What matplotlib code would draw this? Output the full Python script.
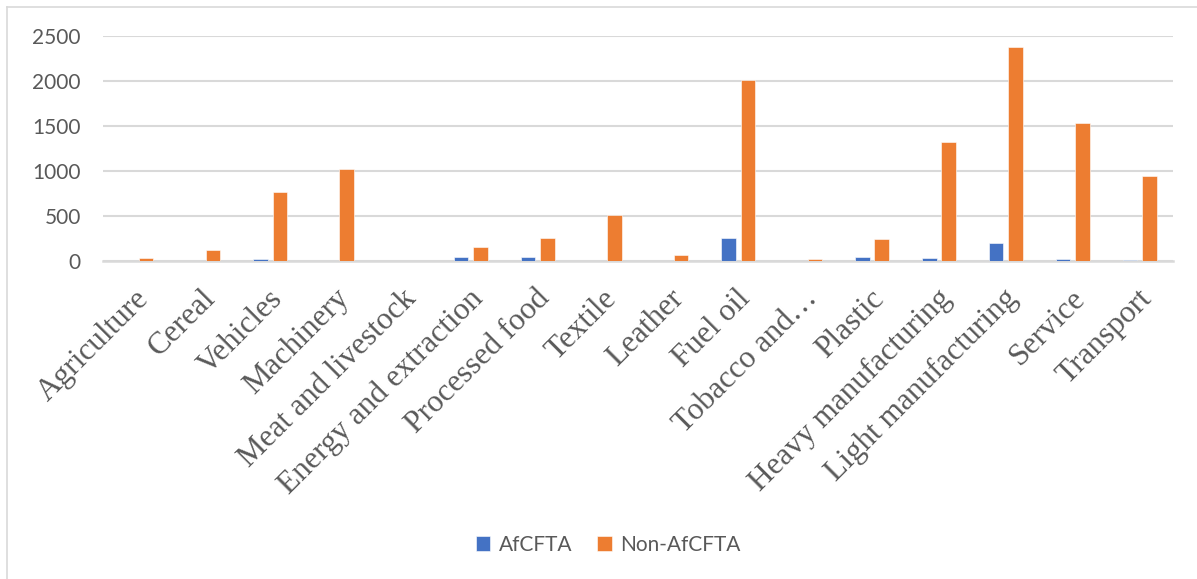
import numpy as np
import matplotlib.pyplot as plt
from matplotlib.lines import Line2D

# Sectors and trade values for the two groups
sectors = ["Agriculture", "Cereal", "Vehicles", "Machinery", "Meat and livestock",
           "Energy and extraction", "Processed food", "Textile", "Leather", "Fuel oil",
           "Tobacco and\u2026", "Plastic", "Heavy manufacturing", "Light manufacturing",
           "Service", "Transport"]
afcfta = [2, 1, 20, 3, 1, 50, 40, 5, 2, 252, 2, 40, 30, 200, 20, 15]
non_afcfta = [35, 120, 765, 1025, 0, 160, 255, 510, 65, 2015, 25, 245, 1325, 2378, 1533, 944]
yticks = [0, 500, 1000, 1500, 2000, 2500]

blue = "#4472C4"
orange = "#ED7D31"
grid_col = "#D9D9D9"
text_col = "#595959"

fig = plt.figure(figsize=(11.97, 5.79), dpi=100)
ax = fig.add_axes([103 / 1197, 1 - 261 / 579, 1070 / 1197, 225 / 579])

x = np.arange(len(sectors))
w = 0.22
ax.bar(x - 0.145, afcfta, w, color=blue, edgecolor="white", linewidth=0.4, label="AfCFTA", zorder=3)
ax.bar(x + 0.145, non_afcfta, w, color=orange, edgecolor="white", linewidth=0.4, label="Non-AfCFTA", zorder=3)

ax.set_xlim(-0.5, len(sectors) - 0.5)
ax.set_ylim(0, 2500)
ax.set_yticks(yticks)
ax.set_yticklabels([str(v) for v in yticks], fontfamily="Lato", fontsize=15, color=text_col)
ax.yaxis.grid(True, color=grid_col, linewidth=1.5, zorder=0)
ax.tick_params(axis="y", length=0, pad=16)
ax.tick_params(axis="x", length=0, pad=24)

# rotated labels end a little right of each category centre
ax.set_xticks(x + 0.12)
ax.set_xticklabels(sectors, rotation=45, ha="right", va="center", rotation_mode="anchor",
                   fontfamily="Liberation Serif", fontsize=22.5, color=text_col)

for side in ["top", "right", "left"]:
    ax.spines[side].set_visible(False)
ax.spines["bottom"].set_color(grid_col)
ax.spines["bottom"].set_linewidth(1.8)

# light frame around the chart area
fig.add_artist(Line2D([7 / 1197, 1], [1 - 7 / 579, 1 - 7 / 579], color=grid_col, linewidth=1.2))
fig.add_artist(Line2D([7 / 1197, 7 / 1197], [0, 1 - 7 / 579], color=grid_col, linewidth=1.2))

handles, labels = ax.get_legend_handles_labels()
leg = fig.legend(handles, labels, loc="center", bbox_to_anchor=(0.508, 0.059), ncol=2, frameon=False,
                 prop={"family": "Lato", "size": 15}, handlelength=0.7, handleheight=0.7,
                 handletextpad=0.4, columnspacing=1.2)
for t in leg.get_texts():
    t.set_color(text_col)

fig.savefig("out.png", dpi=100)
